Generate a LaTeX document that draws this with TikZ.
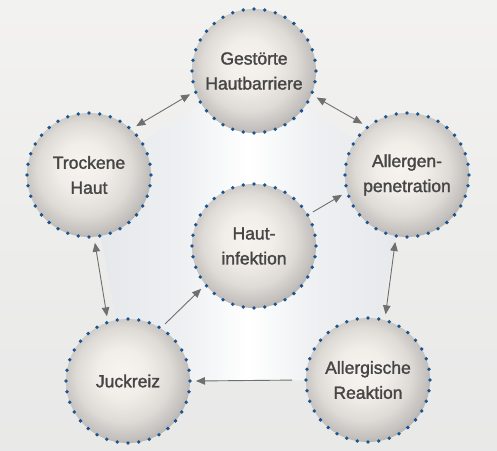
\documentclass[tikz,border=0pt]{standalone}
\usepackage{fontspec}
\setmainfont{Liberation Sans}
\newfontfamily\bubblefont[FakeBold=1.6]{Liberation Sans}
\usetikzlibrary{arrows.meta,calc}
\definecolor{txt}{HTML}{464646}
\definecolor{dotc}{HTML}{1A5590}
\definecolor{arr}{HTML}{6F6F6F}
\definecolor{cA}{HTML}{F7F3EF}
\definecolor{cA2}{HTML}{F1EDE9}
\definecolor{cB}{HTML}{DEDAD6}
\definecolor{cC}{HTML}{C4C1BE}
\definecolor{cD}{HTML}{A3A1A0}
\definecolor{cE}{HTML}{808080}
\definecolor{gL}{HTML}{D5D9DE}
\definecolor{gM}{HTML}{EEF0F2}
\definecolor{gR}{HTML}{D8DBDF}
\definecolor{bgA}{HTML}{E4E4E4}
\definecolor{bgB}{HTML}{EDEDEC}
\definecolor{bgC}{HTML}{F8F7F6}
\pgfdeclareradialshading{bubbleshade}{\pgfpoint{-3bp}{4bp}}{%
  color(0bp)=(cA); color(10bp)=(cA2); color(19bp)=(cB); color(25bp)=(cC); color(30.5bp)=(cD); color(35bp)=(cE); color(50bp)=(cE)}
\pgfdeclarehorizontalshading{midglow}{100bp}{%
  color(0bp)=(gL); color(40bp)=(gM); color(50bp)=(white); color(60bp)=(gM); color(100bp)=(gR)}
\pgfdeclareverticalshading{bgshade}{100bp}{%
  color(0bp)=(bgA); color(50bp)=(bgB); color(100bp)=(bgC)}
\tikzset{
  bubble/.style={circle, minimum size=124pt, inner sep=0pt, outer sep=6pt,
    shading=bubbleshade, text=txt, align=center,
    font=\bubblefont\fontsize{17.5}{25}\selectfont},
  link/.style={draw=arr, line width=0.9pt, {Triangle[length=9pt,width=7.5pt]}-{Triangle[length=9pt,width=7.5pt]}},
  onelink/.style={draw=arr, line width=0.9pt, -{Triangle[length=9pt,width=7.5pt]}}
}
\newcommand\mydots[1]{%
  \foreach \a in {0,10,...,350} \fill[dotc] ($(#1.center)+(\a:62pt)$) circle (1.9pt);}
\begin{document}
\begin{tikzpicture}[x=1pt,y=-1pt]
\useasboundingbox (0,0) rectangle (497,450);
\shade[shading=bgshade] (0,0) rectangle (497,450);
\shade[shading=midglow] (89,175) -- (254,71) -- (407,175) -- (368,380) -- (128,381) -- cycle;
\node[bubble] (gb) at (254,71) {Gestörte\\Hautbarriere};
\node[bubble] (tr) at (89,175) {Trockene\\Haut};
\node[bubble] (ap) at (407,175) {Allergen-\\penetration};
\node[bubble] (hi) at (254,246) {Haut-\\infektion};
\node[bubble] (jr) at (128,381) {Juckreiz};
\node[bubble] (ar) at (368,380) {Allergische\\Reaktion};
\mydots{gb}\mydots{tr}\mydots{ap}\mydots{hi}\mydots{jr}\mydots{ar}
\draw[link] (tr.46) -- (gb.200);
\draw[link] (gb.-23) -- (ap.131);
\draw[onelink] (hi.30) -- (ap.197);
\draw[link] (tr.-85) -- (jr.108);
\draw[onelink] (jr.57) -- (hi.219);
\draw[link] (ap.260) -- (ar.75);
\draw[onelink, shorten <=8pt] (ar.180) -- (jr.0);
\end{tikzpicture}
\end{document}
